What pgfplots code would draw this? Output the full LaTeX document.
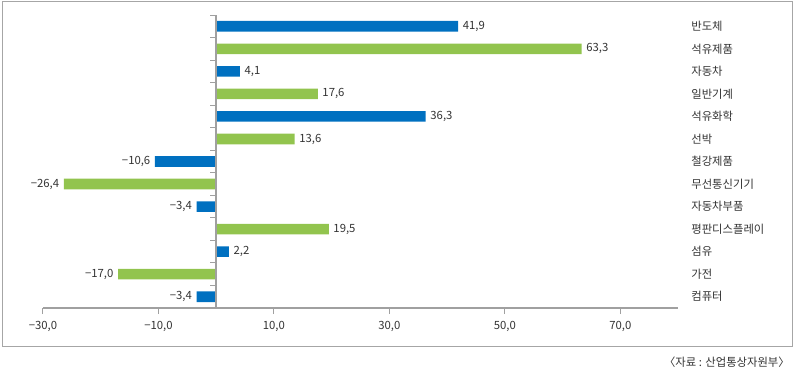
\documentclass[border=0pt]{standalone}
\usepackage{fontspec}
\setmainfont{Noto Sans CJK KR}
\usepackage{pgfplots}
\pgfplotsset{compat=1.18}
\usepackage{pgfplotstable}
\definecolor{cblue}{HTML}{0070C0}
\definecolor{cgreen}{HTML}{92C44E}
\definecolor{axgray}{HTML}{A0A0A0}
\definecolor{framegray}{HTML}{A6A6A6}
\definecolor{txt}{HTML}{333333}

% blue series, positive values
\pgfplotstableread[col sep=semicolon]{
y;v;lab
0;41.9;41,9
2;4.1;4,1
4;36.3;36,3
10;2.2;2,2
}\bluePos
% blue series, negative values
\pgfplotstableread[col sep=semicolon]{
y;v;lab
6;-10.6;−10,6
8;-3.4;−3,4
12;-3.4;−3,4
}\blueNeg
% green series, positive values
\pgfplotstableread[col sep=semicolon]{
y;v;lab
1;63.3;63,3
3;17.6;17,6
5;13.6;13,6
9;19.5;19,5
}\greenPos
% green series, negative values
\pgfplotstableread[col sep=semicolon]{
y;v;lab
7;-26.4;−26,4
11;-17.0;−17,0
}\greenNeg

\begin{document}
\begin{tikzpicture}
\useasboundingbox (0pt,0pt) rectangle (596.25pt,279pt);
\draw[framegray, line width=0.75pt] (1.5pt,19.5pt) rectangle (594pt,277.5pt);
\begin{axis}[
  at={(32.25pt,48pt)}, anchor=south west,
  scale only axis, width=476.25pt, height=219.75pt,
  xmin=-30, xmax=80, ymin=-0.5, ymax=12.5, y dir=reverse,
  xbar, bar width=0.47, bar shift=0,
  axis x line*=bottom, axis y line*=right,
  y axis line style={draw=none},
  x axis line style={axgray, line width=1.5pt},
  xtick={-30,-10,10,30,50,70},
  xticklabels={{−30,0},{−10,0},{10,0},{30,0},{50,0},{70,0}},
  x tick style={axgray, line width=0.75pt},
  tick align=outside, major tick length=4.5pt,
  xticklabel style={font=\fontsize{8.5}{10}\selectfont, text=txt, yshift=-2pt},
  ytick={0,...,12},
  yticklabels={반도체,석유제품,자동차,일반기계,석유화학,선박,철강제품,무선통신기기,자동차부품,평판디스플레이,섬유,가전,컴퓨터},
  y tick style={draw=none},
  yticklabel style={anchor=west, xshift=2pt, font=\fontsize{8.5}{10}\selectfont, text=txt},
  /pgf/number format/assume math mode=true,
  nodes near coords, point meta=explicit symbolic,
  every node near coord/.append style={font=\fontsize{8.5}{10}\selectfont, text=txt},
  clip=false,
]
\addplot[draw=none, fill=cblue, every node near coord/.append style={anchor=west}] table[x=v, y=y, meta=lab] {\bluePos};
\addplot[draw=none, fill=cblue, every node near coord/.append style={anchor=east}] table[x=v, y=y, meta=lab] {\blueNeg};
\addplot[draw=none, fill=cgreen, every node near coord/.append style={anchor=west}] table[x=v, y=y, meta=lab] {\greenPos};
\addplot[draw=none, fill=cgreen, every node near coord/.append style={anchor=east}] table[x=v, y=y, meta=lab] {\greenNeg};
\draw[axgray, line width=1.5pt] (axis cs:0,-0.5) -- (axis cs:0,12.5);
\pgfplotsinvokeforeach{-0.5,0.5,1.5,2.5,3.5,4.5,5.5,6.5,7.5,8.5,9.5,10.5,11.5}{
  \draw[axgray, line width=0.75pt] (axis cs:0,#1) -- ++(-4.5pt,0pt);
}
\end{axis}
\node[anchor=east, font=\fontsize{8.5}{10}\selectfont, text=txt, inner sep=0pt] at (592.5pt,7.5pt) {〈자료 : 산업통상자원부〉};
\end{tikzpicture}
\end{document}
